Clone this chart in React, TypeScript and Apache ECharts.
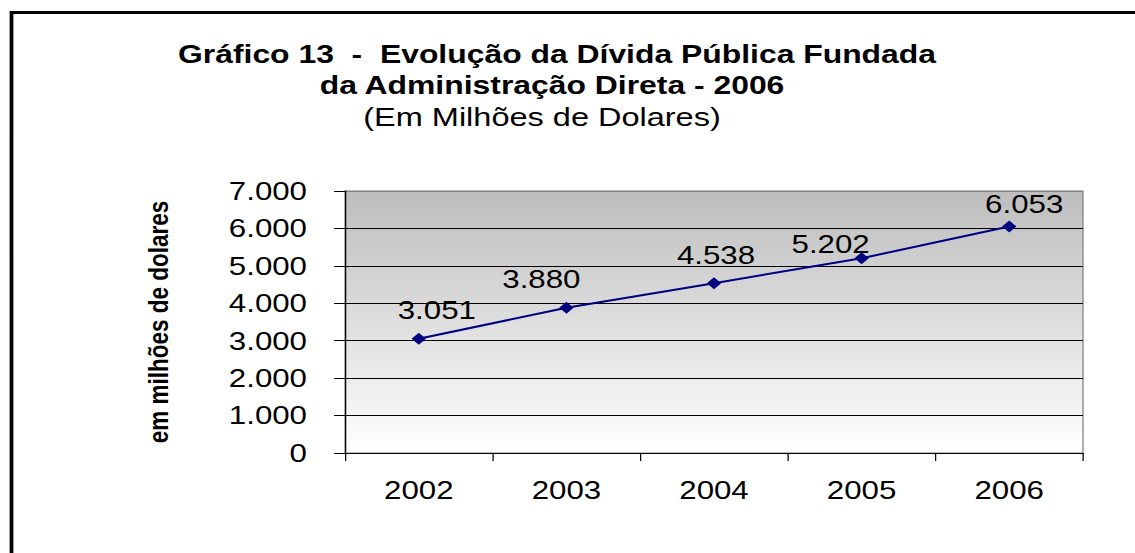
import React, { useEffect, useRef } from "react";
import * as echarts from "echarts";

const categories: string[] = ["2002", "2003", "2004", "2005", "2006"];
const values: number[] = [3051, 3880, 4538, 5202, 6053];
const yMin = 0;
const yMax = 7000;
const yInterval = 1000;

const titleLine1 = "Gráfico 13  -  Evolução da Dívida Pública Fundada";
const titleLine2 = "da Administração Direta - 2006";
const titleLine3 = "(Em Milhões de Dolares)";
const yAxisName = "em milhões de dolares";

const SX = 1.25;
const W = 1135 / SX;
const H = 553;
const FONT = "'Liberation Sans', Arial, Helvetica, sans-serif";

const fmt = (v: number) => String(v).replace(/\B(?=(\d{3})+(?!\d))/g, ".");

export default function App() {
  const ref = useRef<HTMLDivElement>(null);
  useEffect(() => {
    if (!ref.current) return;
    const chart = echarts.init(ref.current, undefined, { renderer: "svg" });
    const labelOffsets: [number, number][] = [
      [14.4, -29],
      [-20, -28.5],
      [1.6, -28],
      [-24.8, -14.5],
      [12, -22.5],
    ];
    chart.setOption({
      animation: false,
      backgroundColor: "#ffffff",
      graphic: [
        {
          type: "rect",
          shape: { x: 9.2, y: 12.5, width: 2000, height: 1000 },
          style: { fill: "none", stroke: "#000", lineWidth: 3 },
          silent: true,
        },
        {
          type: "text",
          x: 445.6,
          y: 54,
          style: {
            text: titleLine1,
            font: `bold 25.5px ${FONT}`,
            fill: "#000",
            textAlign: "center",
            textVerticalAlign: "middle",
          },
        },
        {
          type: "text",
          x: 441.6,
          y: 85.5,
          style: {
            text: titleLine2,
            font: `bold 25.5px ${FONT}`,
            fill: "#000",
            textAlign: "center",
            textVerticalAlign: "middle",
          },
        },
        {
          type: "text",
          x: 433.6,
          y: 117,
          style: {
            text: titleLine3,
            font: `26px ${FONT}`,
            fill: "#000",
            textAlign: "center",
            textVerticalAlign: "middle",
          },
        },
      ],
      grid: {
        left: 276,
        right: W - 1083 / SX,
        top: 191,
        bottom: H - 453,
        show: true,
        borderColor: "#808080",
        borderWidth: 1,
        backgroundColor: new echarts.graphic.LinearGradient(0, 0, 0, 1, [
          { offset: 0, color: "#bdbdbd" },
          { offset: 1, color: "#ffffff" },
        ]),
      },
      xAxis: {
        type: "category",
        data: categories,
        boundaryGap: true,
        axisLine: { show: true, lineStyle: { color: "#000", width: 1 } },
        axisTick: { show: true, length: 8, lineStyle: { color: "#000" } },
        axisLabel: {
          color: "#000",
          fontFamily: FONT,
          fontSize: 25,
          margin: 25,
        },
        splitLine: { show: false },
      },
      yAxis: {
        type: "value",
        min: yMin,
        max: yMax,
        interval: yInterval,
        name: yAxisName,
        nameLocation: "middle",
        nameGap: 138,
        nameTextStyle: {
          color: "#000",
          fontFamily: FONT,
          fontWeight: "bold",
          fontSize: 22.5,
        },
        axisLine: { show: true, lineStyle: { color: "#000", width: 1 } },
        axisTick: { show: true, length: 8.8, lineStyle: { color: "#000" } },
        axisLabel: {
          color: "#000",
          fontFamily: FONT,
          fontSize: 25,
          margin: 30.4,
          formatter: (v: number) => fmt(v),
        },
        splitLine: {
          show: true,
          lineStyle: {
            color: ["#000", "#000", "#000", "#000", "#000", "#000", "#000", "#808080"],
            width: 1,
          },
        },
      },
      series: [
        {
          type: "line",
          data: values.map((v, i) => ({
            value: v,
            label: { offset: labelOffsets[i] },
          })),
          symbol: "diamond",
          symbolSize: [11.5, 12],
          lineStyle: { color: "#000080", width: 2 },
          itemStyle: { color: "#000080" },
          label: {
            show: true,
            position: "inside",
            color: "#000",
            fontFamily: FONT,
            fontSize: 25,
            formatter: (p: any) => fmt(p.value),
          },
        },
      ],
    });
    return () => chart.dispose();
  }, []);
  return (
    <div
      style={{
        position: "fixed",
        left: 0,
        top: 0,
        width: 1135,
        height: 553,
        overflow: "hidden",
        background: "#fff",
      }}
    >
      <div
        ref={ref}
        style={{
          width: W,
          height: H,
          transform: `scaleX(${SX})`,
          transformOrigin: "0 0",
        }}
      />
    </div>
  );
}
